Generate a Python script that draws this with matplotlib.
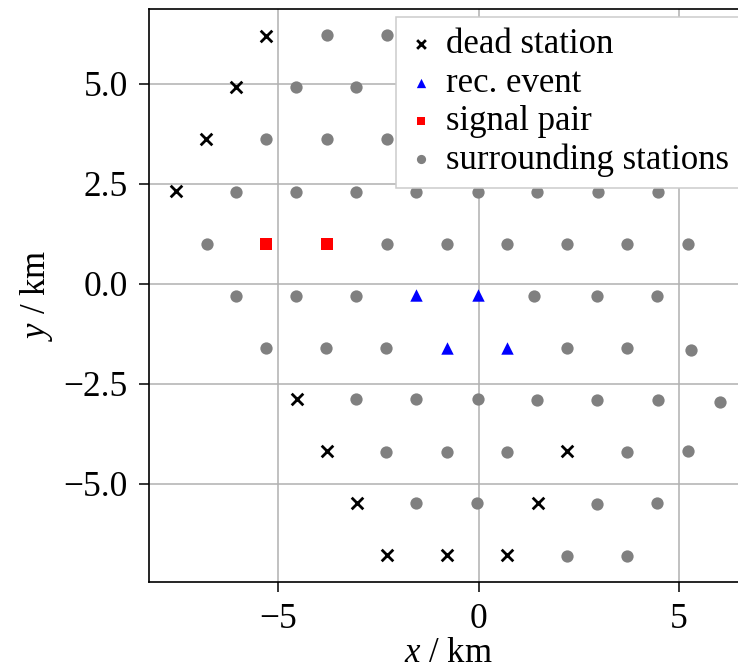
import matplotlib
matplotlib.use("Agg")
import matplotlib.pyplot as plt

plt.rcParams["font.family"] = "serif"
plt.rcParams["font.serif"] = ["Liberation Serif", "DejaVu Serif"]
plt.rcParams["mathtext.fontset"] = "custom"
plt.rcParams["mathtext.rm"] = "Liberation Serif"
plt.rcParams["mathtext.it"] = "Liberation Serif:italic"

# station positions (km)
dead_x = [-5.30, -6.05, -6.80, -7.54, -4.53, -3.78, -3.03, -2.28, -0.79, 0.71, 2.20, 1.48]
dead_y = [6.20, 4.93, 3.63, 2.33, -2.88, -4.18, -5.48, -6.78, -6.78, -6.78, -4.18, -5.48]

event_x = [-1.55, -0.02, -0.78, 0.72]
event_y = [-0.28, -0.28, -1.60, -1.60]

pair_x = [-5.29, -3.79]
pair_y = [1.00, 1.00]

surr_x = [-3.79, -2.29,
          -4.55, -3.05,
          -5.30, -3.79, -2.29,
          -6.05, -4.55, -3.05, -1.55, -0.01, 1.46, 2.97, 4.47,
          -6.78, -2.29, -0.79, 0.70, 2.21, 3.71, 5.22,
          -6.05, -4.55, -3.05, 1.39, 2.96, 4.46,
          -5.30, -3.81, -2.31, 2.21, 3.71, 5.30,
          -3.05, -1.55, -0.02, 1.46, 2.95, 4.47, 6.02,
          -2.31, -0.79, 0.71, 3.71, 5.22,
          -1.55, -0.03, 2.96, 4.46,
          2.21, 3.71]
surr_y = [6.23, 6.23,
          4.92, 4.92,
          3.62, 3.62, 3.62,
          2.31, 2.31, 2.31, 2.31, 2.31, 2.31, 2.31, 2.31,
          1.01, 1.01, 1.01, 1.01, 1.01, 1.01, 1.01,
          -0.29, -0.29, -0.29, -0.29, -0.29, -0.29,
          -1.59, -1.59, -1.59, -1.61, -1.61, -1.65,
          -2.88, -2.88, -2.88, -2.90, -2.90, -2.90, -2.94,
          -4.19, -4.19, -4.21, -4.21, -4.18,
          -5.48, -5.48, -5.50, -5.48,
          -6.80, -6.79]

fig = plt.figure(figsize=(7.38, 6.7), dpi=100)
ax = fig.add_axes([149/738, 88/670, (748-149)/738, (582-9)/670])

ax.scatter(dead_x, dead_y, marker="x", c="k", s=70, linewidths=2.0, label="dead station", zorder=3)
ax.scatter(event_x, event_y, marker="^", c="blue", s=80, linewidths=0, label="rec. event", zorder=3)
ax.scatter(pair_x, pair_y, marker="s", c="red", s=74, linewidths=0, label="signal pair", zorder=3)
ax.scatter(surr_x, surr_y, marker="o", c="gray", s=78, linewidths=0, label="surrounding stations", zorder=3)

ax.set_xlim(-8.22, 6.72)
ax.set_ylim(-7.45, 6.875)
ax.set_xticks([-5, 0, 5])
ax.set_yticks([-5.0, -2.5, 0.0, 2.5, 5.0])
ax.set_yticklabels(["\u22125.0", "\u22122.5", "0.0", "2.5", "5.0"])
ax.set_xticklabels(["\u22125", "0", "5"])
ax.set_axisbelow(True)
ax.grid(True, color="#b0b0b0", linewidth=1.1)
ax.tick_params(labelsize=25.5, length=7.2, width=1.1, pad=8)
for sp in ax.spines.values():
    sp.set_linewidth(1.2)

ax.set_xlabel("$x$ / km", fontsize=25, labelpad=1)
ax.set_ylabel("$y$ / km", fontsize=25, labelpad=6)

leg = ax.legend(loc="upper left", bbox_to_anchor=(396/738, (670-17)/670),
                bbox_transform=fig.transFigure, fontsize=25, markerscale=0.75,
                fancybox=False, framealpha=1, edgecolor="#cccccc",
                borderpad=0.33, labelspacing=0.15, handlelength=0.8,
                handletextpad=0.3, borderaxespad=0)
leg.get_frame().set_linewidth(1.1)

fig.savefig("out.png", dpi=100)
